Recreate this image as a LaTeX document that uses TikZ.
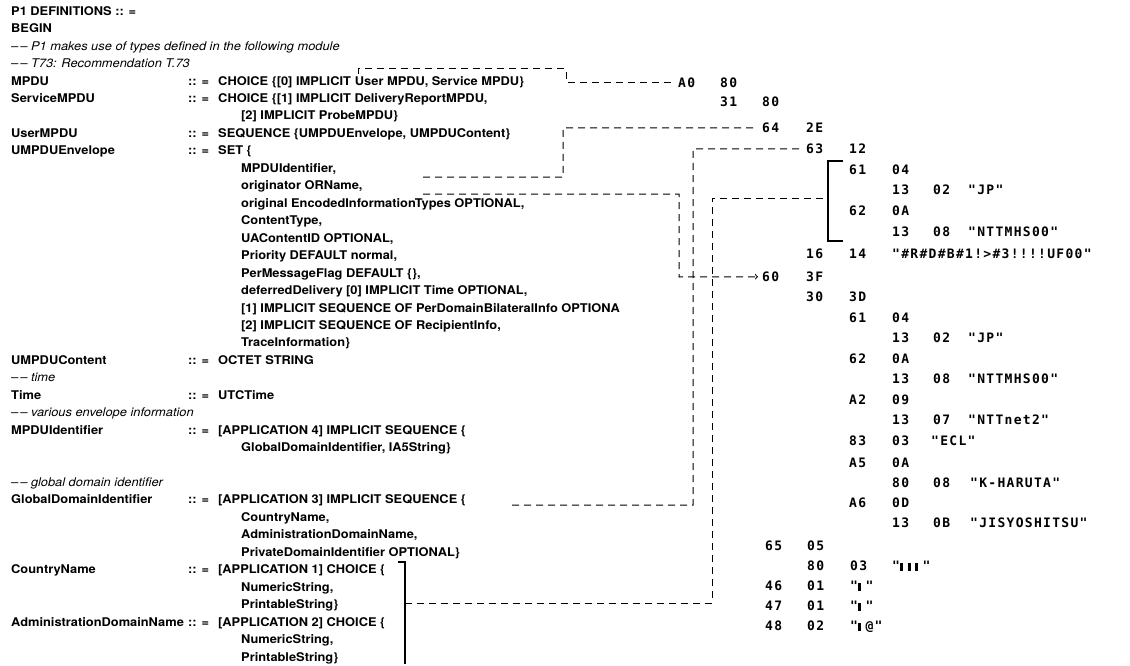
\documentclass[tikz,border=0pt]{standalone}
\usepackage{fontspec}
\setmainfont{TeX Gyre Heros}[FakeStretch=1.07]
\newfontfamily\hexfont{DejaVu Sans Mono}[LetterSpace=10]
\usetikzlibrary{calc}

% black marks standing for the kanji octets
\newcommand{\kj}{\makebox[7.5pt][l]{\rule{3.4pt}{7.5pt}}}

\tikzset{
  asn/.style={anchor=base west, inner sep=0pt, font=\fontsize{12}{14}\selectfont\bfseries},
  rem/.style={anchor=base west, inner sep=0pt, font=\fontsize{12}{14}\selectfont\itshape},
  oct/.style={anchor=base west, inner sep=0pt, font=\hexfont\fontsize{13}{15}\selectfont\bfseries},
  link/.style={line width=1pt, dash pattern=on 7pt off 5pt},
  brack/.style={line width=1.1pt},
}

\begin{document}
\begin{tikzpicture}[x=1pt, y=-1pt]
  \useasboundingbox (0,0) rectangle (1130,666);

  % 1. module header
  \node[asn] (d0) at (11,15.3) {P1 DEFINITIONS :: =};
  \node[asn] (d1) at (11,32.8) {BEGIN};
  \node[rem] (c2) at (11,50.2) {--\,-- P1 makes use of types defined in the following module};
  \node[rem] (c3) at (11,67.7) {--\,-- T73: Recommendation T.73};

  % 2. MPDU, ServiceMPDU, UserMPDU
  \node[asn] (n4) at (11,85.1) {MPDU};
  \node[asn] (e4) at (188,85.1) {:: =};
  \node[asn] (v4) at (218,85.1) {CHOICE \{[0] IMPLICIT};
  \node[asn] (v4b) at ([xshift=3.6pt]v4.base east) {User MPDU, Service MPDU\}};
  \node[asn] (n5) at (11,102.6) {ServiceMPDU};
  \node[asn] (e5) at (188,102.6) {:: =};
  \node[asn] (v5) at (218,102.6) {CHOICE \{[1] IMPLICIT DeliveryReportMPDU,};
  \node[asn] (v6) at (241,120) {[2] IMPLICIT ProbeMPDU\}};
  \node[asn] (n7) at (11,137.5) {UserMPDU};
  \node[asn] (e7) at (188,137.5) {:: =};
  \node[asn] (v7) at (218,137.5) {SEQUENCE \{UMPDUEnvelope, UMPDUContent\}};

  % 3. UMPDUEnvelope
  \node[asn] (n8) at (11,154.9) {UMPDUEnvelope};
  \node[asn] (e8) at (188,154.9) {:: =};
  \node[asn] (v8) at (218,154.9) {SET \{};
  \node[asn] (v9) at (241,172.4) {MPDUIdentifier,};
  \node[asn] (v10) at (241,189.8) {originator ORName,};
  \node[asn] (v11) at (241,207.3) {original EncodedInformationTypes OPTIONAL,};
  \node[asn] (v12) at (241,224.7) {ContentType,};
  \node[asn] (v13) at (241,242.2) {UAContentID OPTIONAL,};
  \node[asn] (v14) at (241,259.6) {Priority DEFAULT normal,};
  \node[asn] (v15) at (241,277.1) {PerMessageFlag DEFAULT \{\},};
  \node[asn] (v16) at (241,294.5) {deferredDelivery [0] IMPLICIT Time OPTIONAL,};
  \node[asn] (v17) at (241,312) {[1] IMPLICIT SEQUENCE OF PerDomainBilateralInfo OPTIONA};
  \node[asn] (v18) at (241,329.4) {[2] IMPLICIT SEQUENCE OF RecipientInfo,};
  \node[asn] (v19) at (241,346.9) {TraceInformation\}};

  % 4. content, time, identifier
  \node[asn] (n20) at (11,364.3) {UMPDUContent};
  \node[asn] (e20) at (188,364.3) {:: =};
  \node[asn] (v20) at (218,364.3) {OCTET STRING};
  \node[rem] (c21) at (11,381.8) {--\,-- time};
  \node[asn] (n22) at (11,399.2) {Time};
  \node[asn] (e22) at (188,399.2) {:: =};
  \node[asn] (v22) at (218,399.2) {UTCTime};
  \node[rem] (c23) at (11,416.7) {--\,-- various envelope information};
  \node[asn] (n24) at (11,434.1) {MPDUIdentifier};
  \node[asn] (e24) at (188,434.1) {:: =};
  \node[asn] (v24) at (218,434.1) {[APPLICATION 4] IMPLICIT SEQUENCE \{};
  \node[asn] (v25) at (241,451.6) {GlobalDomainIdentifier, IA5String\}};

  % 5. domain identifiers
  \node[rem] (c27) at (11,486.5) {--\,-- global domain identifier};
  \node[asn] (n28) at (11,503.9) {GlobalDomainIdentifier};
  \node[asn] (e28) at (188,503.9) {:: =};
  \node[asn] (v28) at (218,503.9) {[APPLICATION 3] IMPLICIT SEQUENCE \{};
  \node[asn] (v29) at (241,521.4) {CountryName,};
  \node[asn] (v30) at (241,538.8) {AdministrationDomainName,};
  \node[asn] (v31) at (241,556.3) {PrivateDomainIdentifier OPTIONAL\}};
  \node[asn] (n32) at (11,573.7) {CountryName};
  \node[asn] (e32) at (188,573.7) {:: =};
  \node[asn] (v32) at (218,573.7) {[APPLICATION 1] CHOICE \{};
  \node[asn] (v33) at (241,591.2) {NumericString,};
  \node[asn] (v34) at (241,608.6) {PrintableString\}};
  \node[asn] (n35) at (11,626.1) {AdministrationDomainName};
  \node[asn] (e35) at (188,626.1) {:: =};
  \node[asn] (v35) at (218,626.1) {[APPLICATION 2] CHOICE \{};
  \node[asn] (v36) at (241,643.5) {NumericString,};
  \node[asn] (v37) at (241,661) {PrintableString\}};

  % 6. encoded octets
  \node[oct] (h1a) at (678,87.5) {A0};
  \node[oct] (h1b) at (720,87.5) {80};
  \node[oct] (h2a) at (720,106.5) {31};
  \node[oct] (h2b) at (762,106.5) {80};
  \node[oct] (h3a) at (762,132.5) {64};
  \node[oct] (h3b) at (806,132.5) {2E};
  \node[oct] (h4a) at (806,153.5) {63};
  \node[oct] (h4b) at (849,153.5) {12};
  \node[oct] (h5a) at (849,174.5) {61};
  \node[oct] (h5b) at (892,174.5) {04};
  \node[oct] (h6a) at (892,194.5) {13};
  \node[oct] (h6b) at (933,194.5) {02};
  \node[oct] (h6c) at (968,194.5) {"JP"};
  \node[oct] (h7a) at (849,215.5) {62};
  \node[oct] (h7b) at (892,215.5) {0A};
  \node[oct] (h8a) at (892,236.5) {13};
  \node[oct] (h8b) at (933,236.5) {08};
  \node[oct] (h8c) at (968,236.5) {"NTTMHS00"};
  \node[oct] (h9a) at (806,258.5) {16};
  \node[oct] (h9b) at (849,258.5) {14};
  \node[oct] (h9c) at (892,258.5) {"\#R\#D\#B\#1!>\#3!!!!UF00"};
  \node[oct] (h10a) at (762,281.5) {60};
  \node[oct] (h10b) at (806,281.5) {3F};
  \node[oct] (h11a) at (806,301.5) {30};
  \node[oct] (h11b) at (849,301.5) {3D};
  \node[oct] (h12a) at (849,322.5) {61};
  \node[oct] (h12b) at (892,322.5) {04};
  \node[oct] (h13a) at (892,342.5) {13};
  \node[oct] (h13b) at (933,342.5) {02};
  \node[oct] (h13c) at (968,342.5) {"JP"};
  \node[oct] (h14a) at (849,363.5) {62};
  \node[oct] (h14b) at (892,363.5) {0A};
  \node[oct] (h15a) at (892,383.5) {13};
  \node[oct] (h15b) at (933,383.5) {08};
  \node[oct] (h15c) at (968,383.5) {"NTTMHS00"};
  \node[oct] (h16a) at (849,404.5) {A2};
  \node[oct] (h16b) at (892,404.5) {09};
  \node[oct] (h17a) at (892,424.5) {13};
  \node[oct] (h17b) at (933,424.5) {07};
  \node[oct] (h17c) at (968,424.5) {"NTTnet2"};
  \node[oct] (h18a) at (849,445.5) {83};
  \node[oct] (h18b) at (892,445.5) {03};
  \node[oct] (h18c) at (931,445.5) {"ECL"};
  \node[oct] (h19a) at (849,467.5) {A5};
  \node[oct] (h19b) at (892,467.5) {0A};
  \node[oct] (h20a) at (892,487.5) {80};
  \node[oct] (h20b) at (933,487.5) {08};
  \node[oct] (h20c) at (970,487.5) {"K-HARUTA"};
  \node[oct] (h21a) at (849,507.5) {A6};
  \node[oct] (h21b) at (892,507.5) {0D};
  \node[oct] (h22a) at (892,527.5) {13};
  \node[oct] (h22b) at (933,527.5) {0B};
  \node[oct] (h22c) at (970,527.5) {"JISYOSHITSU"};
  \node[oct] (h23a) at (765,550.5) {65};
  \node[oct] (h23b) at (807,550.5) {05};
  \node[oct] (h24a) at (807,570.5) {80};
  \node[oct] (h24b) at (850,570.5) {03};
  \node[oct] (h24c) at (892,570.5) {"\kj\kj\kj"};
  \node[oct] (h25a) at (765,590.5) {46};
  \node[oct] (h25b) at (807,590.5) {01};
  \node[oct] (h25c) at (850,590.5) {"\kj"};
  \node[oct] (h26a) at (765,610.5) {47};
  \node[oct] (h26b) at (807,610.5) {01};
  \node[oct] (h26c) at (850,610.5) {"\kj"};
  \node[oct] (h27a) at (765,630.5) {48};
  \node[oct] (h27b) at (807,630.5) {02};
  \node[oct] (h27c) at (850,630.5) {"\kj@"};

  % 7. ends of the links on the definitions
  \coordinate (usrL) at ([xshift=4pt, yshift=1.5pt]v4b.north west);
  \coordinate (usrR) at (566,69);
  \coordinate (mpidR) at (423,177);
  \coordinate (mpidC) at (563,128);
  \coordinate (ornR) at (423,194);
  \coordinate (ornC) at (679,277);
  \coordinate (gdiR) at (512,505);
  \coordinate (gdiC) at (693,149);
  \coordinate (cnT) at (398,562);
  \coordinate (cnB) at (405,664);
  \coordinate (cnM) at (405,603);
  \coordinate (cnC) at (712,603);
  \coordinate (brkT) at (843,161);
  \coordinate (brkB) at (843,241);
  \coordinate (brkM) at (828,198);

  % 8. brackets
  \draw[brack] (cnT) -| (cnB);
  \draw[brack] (brkT) -- ++(-15,0) |- (brkB);

  % 9. links from the types to their octets
  \draw[link, shorten >=6pt] (usrL) |- (usrR) |- (h1a.west);
  \draw[link, shorten >=5pt] (mpidR) -| (mpidC) -- (h3a.west);
  \draw[link, ->, shorten >=4pt] (ornR) -| (ornC) -- (h10a.west);
  \draw[link, shorten >=6pt] (gdiR) -| (gdiC) -- (h4a.west);
  \draw[link] (cnM) -- (cnC) |- (brkM);
\end{tikzpicture}
\end{document}
